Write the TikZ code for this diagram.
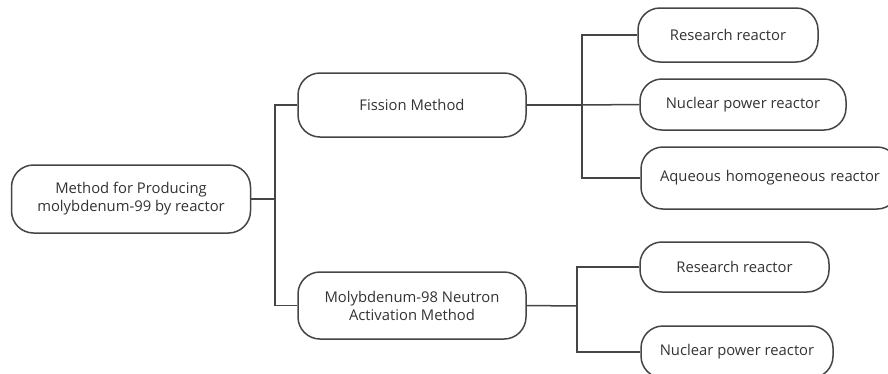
\documentclass[tikz,border=0pt]{standalone}
\usepackage{fontspec}
\setmainfont{Open Sans}
\definecolor{linegray}{HTML}{454545}
\definecolor{textgray}{HTML}{333333}
\tikzset{
  box/.style={draw=linegray, line width=1.5pt, rounded corners=22pt, fill=white,
    inner sep=0pt, align=center, text=textgray, font=\fontsize{14.8}{18}\selectfont},
  link/.style={draw=linegray, line width=1.5pt}
}
\begin{document}
\begin{tikzpicture}[x=1pt,y=-1pt]
\useasboundingbox (0,0) rectangle (888,373);
\clip (0,0) rectangle (888,373);
% nodes
\node[box, minimum width=239pt, minimum height=68pt] (root) at (131,199) {Method for Producing\\molybdenum-99 by reactor};
\node[box, minimum width=228pt, minimum height=64pt] (fis) at (412,105) {Fission Method};
\node[box, minimum width=228pt, minimum height=67pt] (act) at (412,305.5) {Molybdenum-98 Neutron\\Activation Method};
\node[box, minimum width=180pt, minimum height=54pt] (r1) at (728,35) {Research reactor};
\node[box, minimum width=206pt, minimum height=51pt] (n1) at (743,104.5) {Nuclear power reactor};
\node[box, minimum width=258pt, minimum height=62pt, text width=258pt] (a1) at (770,178) {Aqueous homogeneous reactor};
\node[box, minimum width=189pt, minimum height=50pt] (r2) at (734.5,267) {Research reactor};
\node[box, minimum width=192pt, minimum height=52pt] (n2) at (737,352) {Nuclear power reactor};
% junctions
\coordinate (j0) at (275,199);
\coordinate (j1) at (582,105);
\coordinate (j2) at (577,306);
% connectors
\draw[link] (root.east) -- (j0);
\draw[link] (fis.west) -- (fis.west -| j0) -- (act.west -| j0) -- (act.west);
\draw[link] (fis.east) -- (j1);
\draw[link] (r1.west) -- (r1.west -| j1) -- (a1.west -| j1) -- (a1.west);
\draw[link] (j1) -- (n1.west);
\draw[link] (act.east) -- (j2);
\draw[link] (r2.west) -- (r2.west -| j2) -- (n2.west -| j2) -- (n2.west);
\end{tikzpicture}
\end{document}
